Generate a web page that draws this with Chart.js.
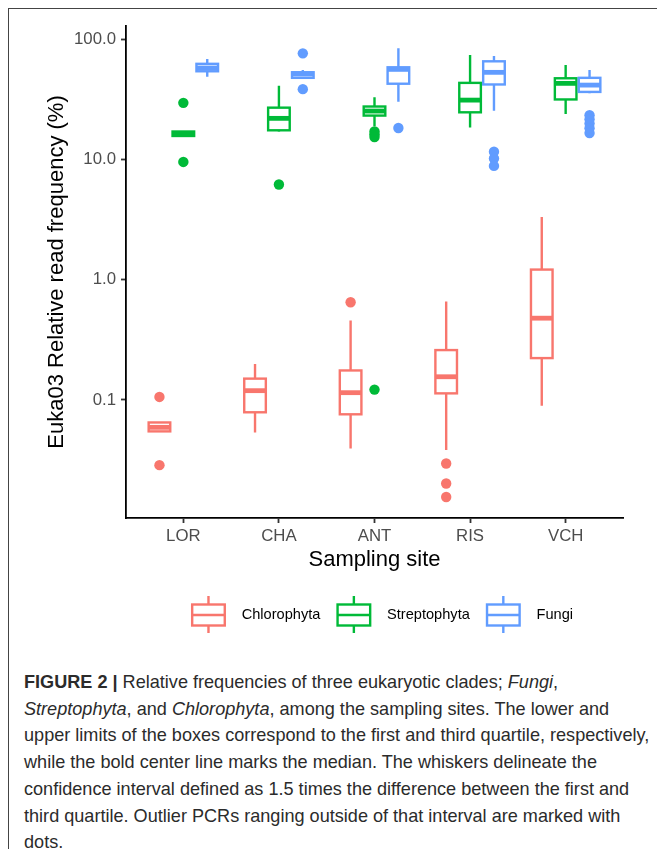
<!DOCTYPE html>
<html><head><meta charset="utf-8">
<script src="https://cdn.jsdelivr.net/npm/chart.js@4.4.1/dist/chart.umd.min.js"></script>
<style>
html,body{margin:0;padding:0;background:#fff;width:657px;height:849px;overflow:hidden;}
#frame{position:absolute;left:8px;top:8px;width:700px;height:900px;border-left:1px solid #444;border-top:1px solid #444;}
#wrap{position:absolute;left:0;top:0;width:657px;height:650px;}
#caption{position:absolute;left:24px;top:669px;font-family:"Liberation Sans",Arial,sans-serif;font-size:18.1px;line-height:26.7px;color:#2b2b2b;white-space:nowrap;}
</style></head><body>
<div id="frame"></div>
<div id="wrap"><canvas id="c" width="657" height="650"></canvas></div>
<div id="caption"><b>FIGURE 2 |</b> Relative frequencies of three eukaryotic clades; <i>Fungi</i>,<br><i>Streptophyta</i>, and <i>Chlorophyta</i>, among the sampling sites. The lower and<br>upper limits of the boxes correspond to the first and third quartile, respectively,<br>while the bold center line marks the median. The whiskers delineate the<br>confidence interval defined as 1.5 times the difference between the first and<br>third quartile. Outlier PCRs ranging outside of that interval are marked with<br>dots.</div>
<script>
// ---- data ----
const sites = ['LOR', 'CHA', 'ANT', 'RIS', 'VCH'];
const seriesNames = ['Chlorophyta', 'Streptophyta', 'Fungi'];
const yTickValues = [0.1, 1, 10, 100];
const yTickLabels = ['0.1', '1.0', '10.0', '100.0'];
const xTitle = 'Sampling site';
const yTitle = 'Euka03 Relative read frequency (%)';

// [lower whisker, Q1, median, Q3, upper whisker] per site
const chlorophytaStats = [
  [0.0548, 0.0548, 0.0592, 0.0650, 0.0650],
  [0.0537, 0.0790, 0.1195, 0.1505, 0.1995],
  [0.0395, 0.0760, 0.1150, 0.1760, 0.4580],
  [0.0383, 0.1135, 0.1560, 0.2600, 0.6590],
  [0.0896, 0.2230, 0.4790, 1.2150, 3.3200]
];
const chlorophytaOutliers = [[0.106, 0.0287], [], [0.65], [0.0296, 0.0202, 0.0156], []];

const streptophytaStats = [
  [15.7, 15.7, 16.4, 17.1, 17.1],
  [17.1, 17.5, 22.0, 27.0, 41.0],
  [18.9, 23.2, 25.3, 27.6, 32.9],
  [18.5, 24.7, 31.2, 43.4, 74.0],
  [23.9, 31.6, 43.0, 47.4, 61.1]
];
const streptophytaOutliers = [[29.6, 9.55], [6.2], [17.1, 16.2, 15.4, 0.122], [], []];

const fungiStats = [
  [48.8, 54.2, 57.7, 62.5, 68.5],
  [47.8, 47.8, 51.4, 53.2, 55.5],
  [30.2, 42.7, 56.2, 58.5, 84.1],
  [25.4, 42.1, 53.1, 65.6, 72.6],
  [35.5, 36.5, 41.6, 47.8, 55.5]
];
const fungiOutliers = [[], [76.4, 38.5], [18.3], [11.6, 10.2, 8.85], [23.4, 21.6, 19.9, 18.2, 16.6]];

// ---- styling ----
const seriesColors = ['#F8766D', '#00BA38', '#619CFF'];
const dodge = [-0.25, 0, 0.25];
const halfBox = 0.113;
const FONT = '"Liberation Sans", Arial, Helvetica, sans-serif';

const allStats = [chlorophytaStats, streptophytaStats, fungiStats];
const allOutliers = [chlorophytaOutliers, streptophytaOutliers, fungiOutliers];

const datasets = seriesNames.map((name, s) => ({
  label: name,
  data: allOutliers[s].flatMap((vals, i) => vals.map(v => ({x: i + dodge[s], y: v}))),
  pointRadius: 5.2,
  pointBackgroundColor: seriesColors[s],
  pointBorderWidth: 0,
  showLine: false
}));

const boxPlugin = {
  id: 'boxes',
  beforeDatasetsDraw(chart) {
    const {ctx} = chart;
    const x = chart.scales.x, y = chart.scales.y;
    ctx.save();
    allStats.forEach((stats, s) => {
      ctx.strokeStyle = seriesColors[s];
      stats.forEach((st, i) => {
        const xc = x.getPixelForValue(i + dodge[s]);
        const hw = x.getPixelForValue(i + dodge[s] + halfBox) - xc;
        const [lo, q1, md, q3, hi] = st.map(v => y.getPixelForValue(v));
        ctx.lineCap = 'butt';
        ctx.lineJoin = 'miter';
        ctx.lineWidth = 2.4;
        ctx.beginPath();
        ctx.moveTo(xc, hi); ctx.lineTo(xc, q3);
        ctx.moveTo(xc, q1); ctx.lineTo(xc, lo);
        ctx.stroke();
        ctx.fillStyle = '#fff';
        ctx.fillRect(xc - hw, q3, 2 * hw, q1 - q3);
        ctx.strokeRect(xc - hw, q3, 2 * hw, q1 - q3);
        ctx.lineWidth = 4.8;
        ctx.beginPath();
        ctx.moveTo(xc - hw, md); ctx.lineTo(xc + hw, md);
        ctx.stroke();
      });
    });
    ctx.restore();
  }
};

const legendPlugin = {
  id: 'boxLegend',
  afterDraw(chart) {
    const ctx = chart.ctx;
    ctx.save();
    ctx.font = '14.6px ' + FONT;
    const keyW = 35, gapText = 15.7, gapItem = 16, centerX = 382, yc = 615;
    const widths = seriesNames.map(n => ctx.measureText(n).width);
    const total = seriesNames.length * (keyW + gapText) + widths.reduce((a, b) => a + b, 0) + gapItem * (seriesNames.length - 1);
    let x0 = centerX - total / 2;
    seriesNames.forEach((n, s) => {
      ctx.strokeStyle = seriesColors[s];
      ctx.lineWidth = 2.4;
      const xc = x0 + keyW / 2;
      ctx.beginPath();
      ctx.moveTo(xc, yc - 19); ctx.lineTo(xc, yc - 10.5);
      ctx.moveTo(xc, yc + 10.5); ctx.lineTo(xc, yc + 18);
      ctx.stroke();
      ctx.fillStyle = '#fff';
      ctx.fillRect(x0 + 1.2, yc - 10.5, keyW - 2.4, 21);
      ctx.strokeRect(x0 + 1.2, yc - 10.5, keyW - 2.4, 21);
      ctx.beginPath();
      ctx.moveTo(x0 + 1.2, yc); ctx.lineTo(x0 + keyW - 1.2, yc);
      ctx.stroke();
      ctx.fillStyle = '#000';
      ctx.textBaseline = 'middle';
      ctx.textAlign = 'left';
      ctx.fillText(n, x0 + keyW + gapText, yc);
      x0 += keyW + gapText + widths[s] + gapItem;
    });
    ctx.restore();
  }
};

new Chart(document.getElementById('c'), {
  type: 'scatter',
  data: {datasets},
  options: {
    responsive: false,
    animation: false,
    events: [],
    layout: {padding: {left: 0, right: 34, top: 26, bottom: 72}},
    plugins: {legend: {display: false}, tooltip: {enabled: false}},
    scales: {
      x: {
        type: 'linear', min: -0.6, max: 4.6, bounds: 'data',
        afterBuildTicks: sc => { sc.ticks = sites.map((_, i) => ({value: i})); },
        afterFit: sc => { sc.height = 60; },
        ticks: {callback: v => sites[v], color: '#4d4d4d', font: {family: FONT, size: 16.8}, padding: 3, maxRotation: 0, autoSkip: false},
        grid: {drawOnChartArea: false, drawTicks: true, tickLength: 5, tickColor: '#333', tickWidth: 1.8},
        border: {display: true, color: '#000', width: 1.8},
        title: {display: true, text: xTitle, color: '#000', font: {family: FONT, size: 22}, padding: {top: 0, bottom: 5}}
      },
      y: {
        type: 'logarithmic', min: 0.01043, max: 129, bounds: 'data',
        afterBuildTicks: sc => { sc.ticks = yTickValues.map(v => ({value: v})); },
        afterFit: sc => { sc.width = 126; },
        ticks: {callback: v => { const k = yTickValues.indexOf(v); return k >= 0 ? yTickLabels[k] : ''; }, color: '#4d4d4d', font: {family: FONT, size: 16.8}, padding: 5, autoSkip: false},
        grid: {drawOnChartArea: false, drawTicks: true, tickLength: 5, tickColor: '#333', tickWidth: 1.8},
        border: {display: true, color: '#000', width: 1.8},
        title: {display: true, text: yTitle, color: '#000', font: {family: FONT, size: 22}, padding: {top: 44, bottom: 0}}
      }
    }
  },
  plugins: [boxPlugin, legendPlugin]
});
</script>
</body></html>
